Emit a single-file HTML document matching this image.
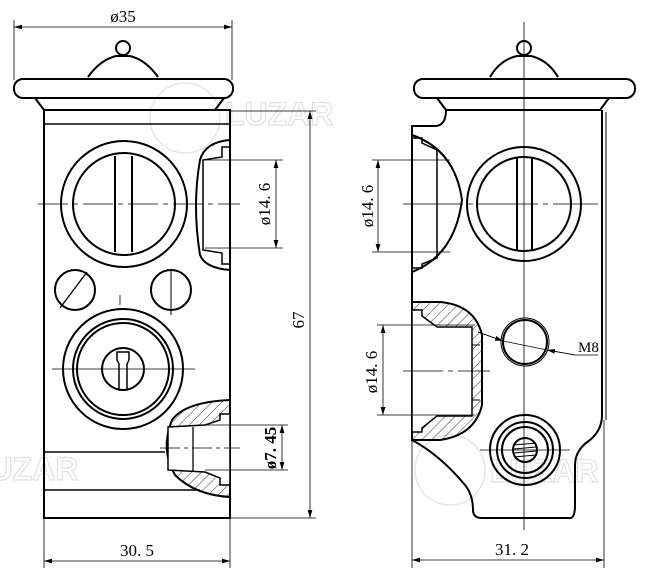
<!DOCTYPE html>
<html><head><style>html,body{margin:0;padding:0;background:#fff}svg{display:block}</style></head>
<body>
<svg width="646" height="579" viewBox="0 0 646 579" xmlns="http://www.w3.org/2000/svg" font-family="Liberation Serif, serif">
<defs>
<marker id="a" viewBox="0 0 10 6" refX="10" refY="3" markerWidth="10" markerHeight="6" orient="auto-start-reverse"><path d="M0,0L10,3L0,6z" fill="#000"/></marker>
<pattern id="h" width="7" height="7" patternUnits="userSpaceOnUse" patternTransform="rotate(45)"><line x1="0" y1="0" x2="0" y2="7" stroke="#000" stroke-width="0.8"/></pattern>
</defs>
<g fill="none" stroke="#e6e6e6" stroke-width="1.5">
<circle cx="185" cy="118" r="35"/><circle cx="450" cy="470" r="35"/>
</g>
<g font-family="Liberation Sans, sans-serif" font-weight="bold" fill="none" stroke="#e2e2e2" stroke-width="1.2" font-size="32">
<text x="225" y="125">LUZAR</text><text x="-30" y="480">LUZAR</text><text x="490" y="482">LUZAR</text>
</g>
<g fill="none" stroke="#000" stroke-width="2">
<circle cx="123" cy="48" r="7"/>
<path d="M88,77 Q100,60 116,56 L130,56 Q146,60 158,77"/>
<rect x="14" y="79" width="219" height="19" rx="9"/>
<path d="M35,98 L44,110 L215,110 L224,98"/>
<rect x="44" y="110" width="186" height="408"/>
<line x1="44" y1="124" x2="230" y2="124" stroke-width="1.5"/>
<circle cx="124" cy="204" r="63"/>
<circle cx="124" cy="204" r="51"/>
<line x1="115" y1="156" x2="115" y2="252"/><line x1="132" y1="156" x2="132" y2="252"/>
<path d="M230,140 Q205,142 200,160 Q192,205 200,255 Q205,268 230,270"/>
<path d="M230,147 L222,147 L222,157 L203,160 L203,250 L222,253 L222,264 L230,264" stroke-width="1.5"/>
<circle cx="75" cy="290" r="20"/><circle cx="171" cy="290" r="20"/>
<line x1="60" y1="308" x2="87" y2="272" stroke-width="1.3"/>
<line x1="171" y1="270" x2="171" y2="315" stroke-width="1"/>
<circle cx="123" cy="369" r="60"/><circle cx="123" cy="369" r="50"/><circle cx="123" cy="369" r="46"/><circle cx="123" cy="369" r="21"/>
<path d="M117,352 L117,360 L119,364 L119,390 L127,390 L127,364 L129,360 L129,352 Z" stroke-width="1.5"/>
<path d="M230,400 Q185,402 172,420 Q160,450 175,475 Q195,495 230,497 Z" fill="url(#h)"/>
<path d="M230,414 L220,414 L220,420 L205,425 L168,427 L168,470 L205,472 L220,478 L220,485 L230,485 Z" fill="#fff" stroke-width="1.5"/>
<line x1="193" y1="427" x2="193" y2="472" stroke-width="1.3"/>
<line x1="44" y1="452" x2="165" y2="452" stroke-width="1.5"/>
<line x1="44" y1="490" x2="200" y2="490" stroke-width="1.5"/>
</g>
<g stroke="#000" stroke-width="0.8" fill="none">
<line x1="38" y1="204" x2="240" y2="204" stroke-dasharray="30,5,5,5"/>
<line x1="52" y1="369" x2="195" y2="369"/>
<line x1="120" y1="295" x2="120" y2="305"/>
<line x1="160" y1="448" x2="240" y2="448" stroke-dasharray="20,4,4,4"/>
<line x1="14" y1="20" x2="14" y2="80"/><line x1="232" y1="20" x2="232" y2="80"/>
<line x1="14" y1="27" x2="232" y2="27" marker-start="url(#a)" marker-end="url(#a)"/>
<line x1="230" y1="111" x2="316" y2="111"/><line x1="230" y1="518" x2="316" y2="518"/>
<line x1="310" y1="111" x2="310" y2="518" marker-start="url(#a)" marker-end="url(#a)"/>
<line x1="205" y1="160" x2="283" y2="160"/><line x1="205" y1="248" x2="283" y2="248"/>
<line x1="276" y1="160" x2="276" y2="248" marker-start="url(#a)" marker-end="url(#a)"/>
<line x1="205" y1="425" x2="288" y2="425"/><line x1="205" y1="470" x2="288" y2="470"/>
<line x1="282" y1="425" x2="282" y2="470" marker-start="url(#a)" marker-end="url(#a)"/>
<line x1="44" y1="518" x2="44" y2="568"/><line x1="230" y1="518" x2="230" y2="568"/>
<line x1="44" y1="561" x2="230" y2="561" marker-start="url(#a)" marker-end="url(#a)"/>
</g>
<g font-size="17" fill="#000">
<text x="123" y="22" text-anchor="middle">ø35</text>
<text x="137" y="556" text-anchor="middle">30. 5</text>
<text transform="translate(304,320) rotate(-90)" text-anchor="middle">67</text>
<text transform="translate(270,204) rotate(-90)" text-anchor="middle">ø14. 6</text>
<text transform="translate(276,448) rotate(-90)" text-anchor="middle" font-weight="bold">ø7. 45</text>
</g>
<g fill="none" stroke="#000" stroke-width="2">
<circle cx="524" cy="48" r="7"/>
<path d="M490,77 Q500,60 517,56 L531,56 Q548,60 558,77"/>
<rect x="414" y="79" width="221" height="19" rx="9"/>
<path d="M437,98 L446,110 L600,110 L609,98"/>
<path d="M446,110 Q446,125 436,126 L412,126 L412,440 Q440,455 465,485 Q473,495 473,510 Q473,518 482,518 L570,518 Q575,518 575,505 L575,465 Q575,450 590,440 Q602,430 602,415 L602,110"/>
<line x1="606" y1="112" x2="606" y2="420" stroke-width="1"/>
<circle cx="524" cy="204" r="57"/><circle cx="524" cy="204" r="47"/>
<line x1="517" y1="158" x2="517" y2="250"/><line x1="532" y1="158" x2="532" y2="250"/>
<path d="M412,135 Q455,150 462,200 Q455,255 412,272"/>
<path d="M412,138 L422,138 L422,143 L437,150 L437,258 L422,264 L422,268 L412,268" stroke-width="1.5"/>
<path d="M412,302 L440,302 Q475,305 482,335 L482,405 Q475,435 440,440 L412,440 Z" fill="url(#h)"/>
<path d="M412,310 L422,310 L422,316 L437,327 L472,327 L472,416 L437,416 L422,428 L422,432 L412,432 Z" fill="#fff" stroke-width="1.5"/>
<line x1="472" y1="345" x2="480" y2="345" stroke-width="1"/><line x1="472" y1="400" x2="480" y2="400" stroke-width="1"/>
<circle cx="525" cy="342" r="22"/><circle cx="525" cy="342" r="24" stroke-width="1"/>
<circle cx="525" cy="450" r="35"/><circle cx="525" cy="450" r="28"/><circle cx="525" cy="450" r="23"/><circle cx="525" cy="450" r="12"/>
</g>
<g stroke="#000" stroke-width="1">
<line x1="514" y1="445" x2="536" y2="443"/><line x1="514" y1="449" x2="536" y2="447"/><line x1="514" y1="453" x2="536" y2="451"/><line x1="514" y1="457" x2="536" y2="455"/>
</g>
<g stroke="#000" stroke-width="0.8" fill="none">
<line x1="524" y1="22" x2="524" y2="530"/>
<line x1="403" y1="204" x2="598" y2="204" stroke-dasharray="60,5,5,5"/>
<line x1="403" y1="371" x2="490" y2="371" stroke-dasharray="40,5,5,5"/>
<line x1="480" y1="450" x2="570" y2="450"/>
<line x1="372" y1="160" x2="450" y2="160"/><line x1="372" y1="252" x2="450" y2="252"/>
<line x1="378" y1="160" x2="378" y2="252" marker-start="url(#a)" marker-end="url(#a)"/>
<line x1="377" y1="325" x2="475" y2="325"/><line x1="377" y1="415" x2="475" y2="415"/>
<line x1="383" y1="325" x2="383" y2="415" marker-start="url(#a)" marker-end="url(#a)"/>
<path d="M478,332 L503,341 L547,350 L575,355 L598,355"/>
<line x1="478" y1="332" x2="503" y2="341" marker-end="url(#a)"/>
<line x1="575" y1="355" x2="547" y2="350" marker-end="url(#a)"/>
<line x1="412" y1="440" x2="412" y2="568"/><line x1="604" y1="420" x2="604" y2="568"/>
<line x1="412" y1="560" x2="604" y2="560" marker-start="url(#a)" marker-end="url(#a)"/>
</g>
<g font-size="17" fill="#000">
<text x="578" y="352" font-size="15">M8</text>
<text x="512" y="555" text-anchor="middle">31. 2</text>
<text transform="translate(373,206) rotate(-90)" text-anchor="middle">ø14. 6</text>
<text transform="translate(377,372) rotate(-90)" text-anchor="middle">ø14. 6</text>
</g>
</svg>
</body></html>
